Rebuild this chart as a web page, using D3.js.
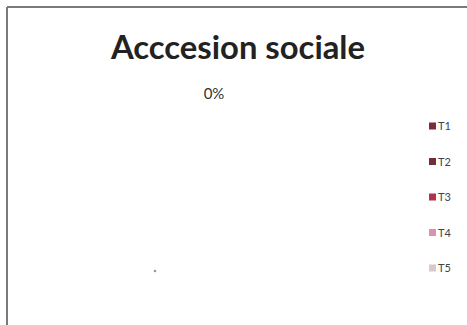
<!DOCTYPE html>
<html>
<head>
<meta charset="utf-8">
<script src="https://cdn.jsdelivr.net/npm/d3@7"></script>
<style>
html,body{margin:0;padding:0;background:#fff;}
svg{display:block;}
</style>
</head>
<body>
<svg id="chart" width="467" height="325"></svg>
<script>
const title = "Acccesion sociale";
const categories = ["T1", "T2", "T3", "T4", "T5"];
const values = [0, 0, 0, 0, 0];
const colors = ["#7b2c3a", "#6e2f3a", "#b0324f", "#d992b0", "#d9c9c8"];

const W = 467, H = 325;
const svg = d3.select("#chart");

// frame (top and left edges visible)
svg.append("line").attr("x1", 7).attr("y1", 7).attr("x2", W).attr("y2", 7)
  .attr("stroke", "#7a7a7a").attr("stroke-width", 2);
svg.append("line").attr("x1", 7).attr("y1", 7).attr("x2", 7).attr("y2", H)
  .attr("stroke", "#7a7a7a").attr("stroke-width", 2);

// title
const t = svg.append("text").attr("x", 238).attr("y", 59)
  .attr("text-anchor", "middle")
  .style("font-family", "Lato, 'Open Sans', sans-serif")
  .style("font-weight", "bold").style("font-size", "32px")
  .attr("fill", "#222").text(title);
const tw = t.node().getComputedTextLength();
if (Math.abs(tw - 254) > 2) t.attr("textLength", 254).attr("lengthAdjust", "spacingAndGlyphs");

// pie (all values zero -> degenerate slices)
const total = d3.sum(values);
const color = d3.scaleOrdinal().domain(categories).range(colors);
const pie = d3.pie().sort(null).value(d => d.value);
const data = pie(categories.map((c, i) => ({ cat: c, value: values[i] })));
const cx = 155, cy = 271;
const arc = d3.arc().innerRadius(0).outerRadius(1.5);
const g = svg.append("g").attr("transform", `translate(${cx},${cy})`);
g.selectAll("path").data(data).enter().append("path")
  .attr("d", arc).attr("fill", d => color(d.data.cat));
// remnant point of the empty pie
g.append("circle").attr("r", 1.3).attr("fill", "#9a9a9a");

// data label (all labels overlap)
const fmt = d3.format(".0%");
svg.append("g").selectAll("text").data(data.slice(0, 1)).enter().append("text")
  .attr("x", 214).attr("y", 99)
  .attr("text-anchor", "middle")
  .style("font-family", "Lato, 'Open Sans', sans-serif")
  .style("font-size", "15px").attr("fill", "#333")
  .text(d => fmt(total ? d.data.value / total : 0));

// legend
const ly = d3.scalePoint().domain(categories).range([126, 268]);
const lg = svg.append("g").selectAll("g").data(categories).enter().append("g")
  .attr("transform", d => `translate(429,${ly(d)})`);
lg.append("rect").attr("x", 0).attr("y", -3.5).attr("width", 7).attr("height", 7)
  .attr("fill", d => color(d));
lg.append("text").attr("x", 9).attr("y", 4)
  .style("font-family", "Lato, 'Open Sans', sans-serif")
  .style("font-size", "11px").attr("fill", "#444").text(d => d);
</script>
</body>
</html>
